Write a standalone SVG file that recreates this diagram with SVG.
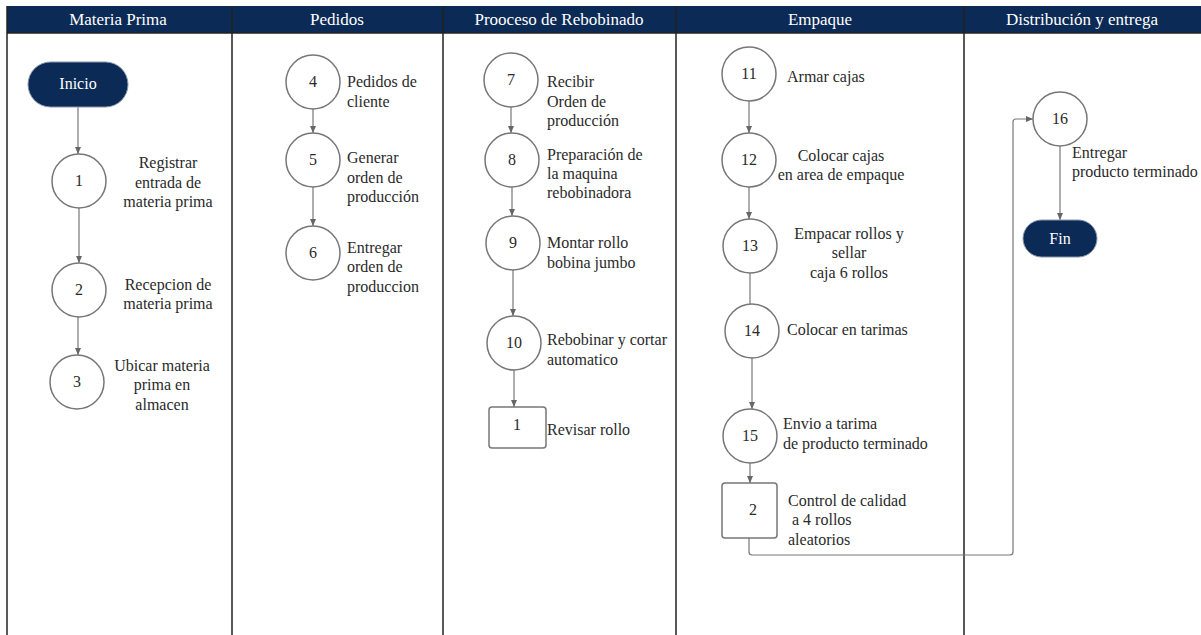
<svg xmlns="http://www.w3.org/2000/svg" width="1201" height="635" viewBox="0 0 1201 635">
<style>
.hdr{fill:#0b2a55}
.ht{font-family:"Liberation Serif","Times New Roman",serif;font-size:17px;fill:#ffffff;text-anchor:middle}
.lane{stroke:#222;stroke-width:1.5;fill:none}
.c{fill:#fff;stroke:#777;stroke-width:1.5}
.n{font-family:"Liberation Serif","Times New Roman",serif;font-size:16px;fill:#2a2a2a;text-anchor:middle}
.t{font-family:"Liberation Serif","Times New Roman",serif;font-size:16px;fill:#2a2a2a}
.tm{font-family:"Liberation Serif","Times New Roman",serif;font-size:16px;fill:#2a2a2a;text-anchor:middle}
.pill{fill:#0b2a55;stroke:#8a97ab;stroke-width:1}
.pt{font-family:"Liberation Serif","Times New Roman",serif;font-size:16px;fill:#fff;text-anchor:middle}
.e{stroke:#777;stroke-width:1.2;fill:none}
.ea{stroke:#777;stroke-width:1.2;fill:none;marker-end:url(#ah)}
</style>
<defs>
<marker id="ah" markerWidth="8" markerHeight="8" refX="7" refY="4" orient="auto" markerUnits="userSpaceOnUse">
<path d="M0,1 L7,4 L0,7 Z" fill="#666"/>
</marker>
</defs>
<rect width="1201" height="635" fill="#fff"/>
<g id="lanes">
<rect class="hdr" x="7" y="6" width="1194" height="27"/>
<line class="lane" x1="7" y1="6" x2="7" y2="635"/>
<line class="lane" x1="232" y1="6" x2="232" y2="635"/>
<line class="lane" x1="443" y1="6" x2="443" y2="635"/>
<line class="lane" x1="676" y1="6" x2="676" y2="635"/>
<line class="lane" x1="964" y1="6" x2="964" y2="635"/>
<line x1="7" y1="33" x2="1201" y2="33" stroke="#222" stroke-width="1.5"/>
<text class="ht" x="118" y="25">Materia Prima</text>
<text class="ht" x="337" y="25">Pedidos</text>
<text class="ht" x="559" y="25">Prooceso de Rebobinado</text>
<text class="ht" x="820" y="25">Empaque</text>
<text class="ht" x="1082" y="25">Distribución y entrega</text>
</g>
<g id="connectors">
<line class="ea" x1="78" y1="107" x2="78" y2="154"/>
<line class="ea" x1="79" y1="208" x2="79" y2="263"/>
<line class="ea" x1="78" y1="317" x2="78" y2="355"/>
<line class="ea" x1="313" y1="109" x2="313" y2="133"/>
<line class="ea" x1="313" y1="187" x2="313" y2="226"/>
<line class="ea" x1="511" y1="107" x2="511" y2="133"/>
<line class="ea" x1="512" y1="187" x2="512" y2="216"/>
<line class="ea" x1="513" y1="270" x2="513" y2="316"/>
<line class="ea" x1="514" y1="370" x2="514" y2="407"/>
<line class="ea" x1="749" y1="101" x2="749" y2="133"/>
<line class="ea" x1="749" y1="187" x2="749" y2="219"/>
<line class="e" x1="750" y1="273" x2="750" y2="305"/>
<line class="ea" x1="752" y1="358" x2="752" y2="409"/>
<line class="ea" x1="750" y1="463" x2="750" y2="483"/>
<path class="ea" d="M749,538 L749,552 Q749,555 752,555 L1010,555 Q1013,555 1013,552 L1013,122 Q1013,119 1016,119 L1033,119"/>
<line class="ea" x1="1060" y1="146" x2="1060" y2="220"/>
<line x1="546" y1="428" x2="516" y2="428" stroke="#aaa" stroke-width="1"/>
<path d="M514,428 L519,426 L519,430 Z" fill="#666"/>
</g>
<g id="inicio"><rect class="pill" x="28" y="62" width="100" height="45" rx="22.5"/><text class="pt" x="78" y="89">Inicio</text></g>
<g id="n1"><circle class="c" cx="79" cy="181" r="27"/><text class="n" x="79" y="186">1</text>
<text class="tm" x="168" y="168">Registrar</text><text class="tm" x="168" y="188">entrada de</text><text class="tm" x="168" y="207">materia prima</text></g>
<g id="n2"><circle class="c" cx="79" cy="290" r="27"/><text class="n" x="79" y="295">2</text>
<text class="tm" x="168" y="290">Recepcion de</text><text class="tm" x="168" y="309">materia prima</text></g>
<g id="n3"><circle class="c" cx="77" cy="382" r="27"/><text class="n" x="77" y="387">3</text>
<text class="tm" x="162" y="371">Ubicar materia</text><text class="tm" x="162" y="390">prima en</text><text class="tm" x="162" y="410">almacen</text></g>
<g id="n4"><circle class="c" cx="313" cy="82" r="27"/><text class="n" x="313" y="87">4</text>
<text class="t" x="347" y="87">Pedidos de</text><text class="t" x="347" y="107">cliente</text></g>
<g id="n5"><circle class="c" cx="313" cy="160" r="27"/><text class="n" x="313" y="165">5</text>
<text class="t" x="347" y="163">Generar</text><text class="t" x="347" y="183">orden de</text><text class="t" x="347" y="202">producción</text></g>
<g id="n6"><circle class="c" cx="313" cy="253" r="27"/><text class="n" x="313" y="258">6</text>
<text class="t" x="347" y="253">Entregar</text><text class="t" x="347" y="272">orden de</text><text class="t" x="347" y="292">produccion</text></g>
<g id="n7"><circle class="c" cx="511" cy="80" r="27"/><text class="n" x="511" y="85">7</text>
<text class="t" x="547" y="87">Recibir</text><text class="t" x="547" y="107">Orden de</text><text class="t" x="547" y="126">producción</text></g>
<g id="n8"><circle class="c" cx="512" cy="160" r="27"/><text class="n" x="512" y="165">8</text>
<text class="t" x="547" y="160">Preparación de</text><text class="t" x="547" y="179">la maquina</text><text class="t" x="547" y="198">rebobinadora</text></g>
<g id="n9"><circle class="c" cx="513" cy="243" r="27"/><text class="n" x="513" y="248">9</text>
<text class="t" x="547" y="248">Montar rollo</text><text class="t" x="547" y="268">bobina jumbo</text></g>
<g id="n10"><circle class="c" cx="514" cy="343" r="27"/><text class="n" x="514" y="348">10</text>
<text class="t" x="547" y="345">Rebobinar y cortar</text><text class="t" x="547" y="365">automatico</text></g>
<g id="r1"><rect class="c" x="489" y="407" width="57" height="41" rx="3"/><text class="n" x="517" y="430">1</text>
<text class="t" x="547" y="435">Revisar rollo</text></g>
<g id="n11"><circle class="c" cx="749" cy="74" r="27"/><text class="n" x="749" y="79">11</text>
<text class="t" x="787" y="82">Armar cajas</text></g>
<g id="n12"><circle class="c" cx="749" cy="160" r="27"/><text class="n" x="749" y="165">12</text>
<text class="tm" x="841" y="161">Colocar cajas</text><text class="tm" x="841" y="180">en area de empaque</text></g>
<g id="n13"><circle class="c" cx="750" cy="246" r="27"/><text class="n" x="750" y="251">13</text>
<text class="tm" x="849" y="239">Empacar rollos y</text><text class="tm" x="849" y="258">sellar</text><text class="tm" x="849" y="278">caja 6 rollos</text></g>
<g id="n14"><circle class="c" cx="752" cy="331" r="27"/><text class="n" x="752" y="336">14</text>
<text class="t" x="787" y="335">Colocar en tarimas</text></g>
<g id="n15"><circle class="c" cx="750" cy="436" r="27"/><text class="n" x="750" y="441">15</text>
<text class="t" x="783" y="429">Envio a tarima</text><text class="t" x="783" y="449">de producto terminado</text></g>
<g id="r2"><rect class="c" x="722" y="483" width="55" height="55" rx="3"/><text class="n" x="753" y="515">2</text>
<text class="t" x="788" y="506">Control de calidad</text><text class="t" x="792" y="525">a 4 rollos</text><text class="t" x="788" y="545">aleatorios</text></g>
<g id="n16"><circle class="c" cx="1060" cy="119" r="27"/><text class="n" x="1060" y="124">16</text>
<text class="t" x="1072" y="158">Entregar</text><text class="t" x="1072" y="177">producto terminado</text></g>
<g id="fin"><rect class="pill" x="1023" y="220" width="74" height="37" rx="18.5"/><text class="pt" x="1060" y="244">Fin</text></g>
</svg>
